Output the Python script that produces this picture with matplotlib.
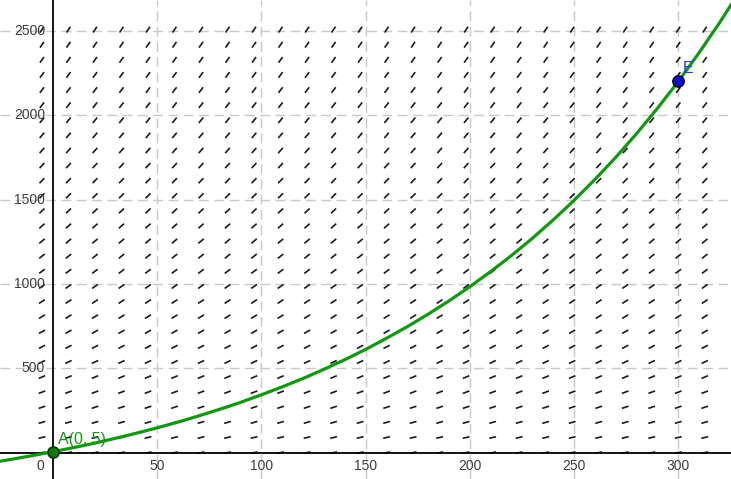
import numpy as np
import matplotlib
matplotlib.use("Agg")
import matplotlib.pyplot as plt
from matplotlib.collections import LineCollection

# ---- data ----
curve_x = [-30, -20, -10, 0, 10, 20, 30, 40, 50, 60, 70, 80, 90, 100, 110, 120,
           130, 140, 150, 160, 170, 180, 190, 200, 210, 220, 230, 240, 250, 260,
           270, 280, 290, 300, 310, 320, 330]
curve_y = [-61, -40, -18, 5, 30, 56, 85, 115, 147, 181, 218, 257, 298, 343, 390, 440,
           494, 551, 612, 678, 747, 821, 900, 984, 1074, 1169, 1271, 1380, 1496, 1620,
           1751, 1892, 2042, 2201, 2372, 2553, 2747]

point_A = (0, 5)
point_E = (300, 2204)

x_ticks = [50, 100, 150, 200, 250, 300]
y_ticks = [500, 1000, 1500, 2000, 2500]

# slope field: dy/dx = slope_a * y + slope_b on a regular grid
slope_a = 0.00641
slope_b = 2.38
field_x0, field_dx, field_nx = -5.3, 12.72, 26
field_y0, field_dy, field_ny = 0.0, 89.6, 29

# ---- figure ----
W, H, DPI = 731, 479, 100
fig = plt.figure(figsize=(W / DPI, H / DPI), dpi=DPI)
ax = fig.add_axes([0, 0, 1, 1])
xmin, xmax = -25.43, 325.3
ymin, ymax = -156.6, 2684.5
ax.set_xlim(xmin, xmax)
ax.set_ylim(ymin, ymax)
for s in ax.spines.values():
    s.set_visible(False)
ax.set_xticks([])
ax.set_yticks([])

sx = W / (xmax - xmin)   # px per unit
sy = H / (ymax - ymin)

# grid
grid_kw = dict(color="#c8c8c8", lw=1.0, dashes=(7, 4), zorder=0)
for xv in x_ticks:
    ax.axvline(xv, **grid_kw)
for yv in y_ticks:
    ax.axhline(yv, **grid_kw)

# slope field
segs = []
L = 7.0  # px
fx = field_x0 + field_dx * np.arange(field_nx)
fy = field_y0 + field_dy * np.arange(field_ny)
for yv in fy:
    m = slope_a * yv + slope_b
    ms = m * sy / sx
    th = np.arctan(ms)
    dxp, dyp = L / 2 * np.cos(th), L / 2 * np.sin(th)
    for xv in fx:
        segs.append([(xv - dxp / sx, yv - dyp / sy), (xv + dxp / sx, yv + dyp / sy)])
ax.add_collection(LineCollection(segs, colors="#1a1a1a", linewidths=1.2, zorder=2))

# axes lines
ax.axhline(0, color="black", lw=1.3, zorder=3)
ax.axvline(0, color="black", lw=1.3, zorder=3)

# tick labels
lab_kw = dict(fontsize=10, color="#3c3c3c", family="Liberation Sans", zorder=4)
for xv in x_ticks:
    ax.text(xv, -80, str(xv), ha="center", va="center", **lab_kw)
ax.text(-6, -80, "0", ha="center", va="center", **lab_kw)
for yv in y_ticks:
    ax.text(-3.8, yv, str(yv), ha="right", va="center", **lab_kw)

# curve
ax.plot(curve_x, curve_y, color="#109910", lw=2.3, zorder=5, solid_capstyle="round")

# points
ax.plot(*point_A, marker="o", ms=8, mfc="#117711", mec="#0a3a0a", mew=1.2, zorder=6)
ax.text(point_A[0] + 2.3, point_A[1] + 45, "A(0, 5)", color="#109910", fontsize=11.5,
        family="Liberation Sans", ha="left", va="baseline", zorder=6)
ax.plot(*point_E, marker="o", ms=8, mfc="#1010cc", mec="#000044", mew=1.2, zorder=6)
ax.text(point_E[0] + 2.3, point_E[1] + 45, "E", color="#3333ee", fontsize=11.5,
        family="Liberation Sans", ha="left", va="baseline", zorder=6)

fig.savefig("out.png", dpi=DPI)
